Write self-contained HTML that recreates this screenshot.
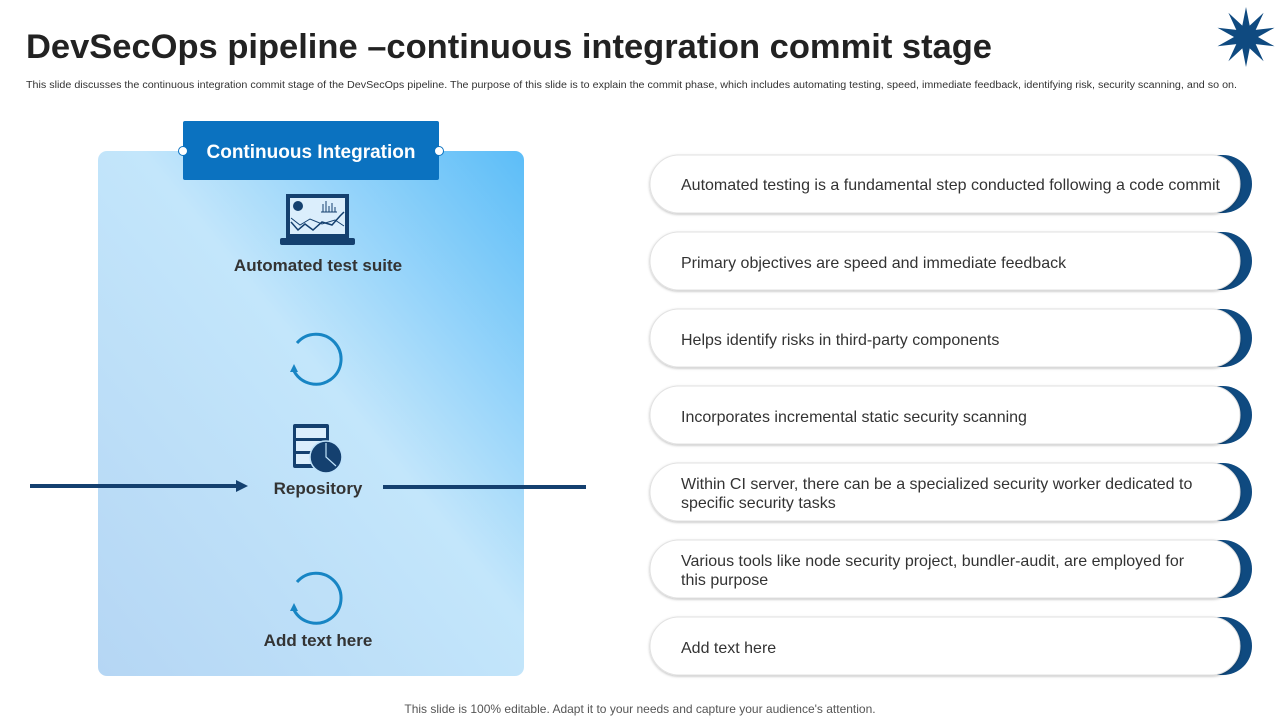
<!DOCTYPE html>
<html><head><meta charset="utf-8"><style>
html,body{margin:0;padding:0;background:#fff;}
svg{display:block;font-family:"Liberation Sans",sans-serif;}
</style></head><body>
<svg width="1280" height="720" viewBox="0 0 1280 720" xmlns="http://www.w3.org/2000/svg">
<defs>
<linearGradient id="pg" x1="1" y1="0" x2="0" y2="1">
<stop offset="0" stop-color="#5cbdf8"/>
<stop offset="0.45" stop-color="#c3e6fb"/>
<stop offset="1" stop-color="#b5d6f4"/>
</linearGradient>
<filter id="sh" x="-5%" y="-20%" width="110%" height="140%"><feDropShadow dx="0" dy="1" stdDeviation="1.2" flood-color="#000" flood-opacity="0.25"/></filter>
</defs>
<text x="26" y="58" font-size="34" font-weight="bold" fill="#222" textLength="966" lengthAdjust="spacingAndGlyphs">DevSecOps pipeline –continuous integration commit stage</text>
<text x="26" y="88" font-size="10" fill="#333" textLength="1211" lengthAdjust="spacingAndGlyphs">This slide discusses the continuous integration commit stage of the DevSecOps pipeline. The purpose of this slide is to explain the commit phase, which includes automating testing, speed, immediate feedback, identifying risk, security scanning, and so on.</text>
<polygon fill="#0f4a80" points="1246,7 1249.7,25.6 1263.6,12.7 1255.7,29.9 1274.5,27.7 1258,37 1274.5,46.3 1255.7,44.1 1263.6,61.3 1249.7,48.4 1246,67 1242.3,48.4 1228.4,61.3 1236.3,44.1 1217.5,46.3 1234,37 1217.5,27.7 1236.3,29.9 1228.4,12.7 1242.3,25.6"/>
<rect x="98" y="151" width="426" height="525" rx="9" fill="url(#pg)"/>
<rect x="183" y="121" width="256" height="59" rx="2" fill="#0b72c0"/>
<circle cx="183" cy="151" r="4.5" fill="#fff" stroke="#0b72c0" stroke-width="1"/>
<circle cx="439" cy="151" r="4.5" fill="#fff" stroke="#0b72c0" stroke-width="1"/>
<text x="311" y="158" font-size="19" font-weight="bold" fill="#fff" text-anchor="middle">Continuous Integration</text>
<rect x="286" y="194" width="63" height="44" fill="#14406f"/>
<rect x="290" y="198" width="55" height="36" fill="#dbeefc"/>
<polyline points="291,222 298,230 305,224 313,230 322,222 332,225 340,216 344,212" fill="none" stroke="#14406f" stroke-width="1.5"/>
<polyline points="291,218 300,225 310,219 322,224 335,220 344,226" fill="none" stroke="#14406f" stroke-width="1"/>
<circle cx="298" cy="206" r="5" fill="#14406f"/>
<path d="M323 212 v-8 M326 212 v-11 M329 212 v-6 M332 212 v-9 M335 212 v-5 M321 212 h16" stroke="#14406f" stroke-width="1"/>
<rect x="280" y="238" width="75" height="7" rx="2" fill="#14406f"/>
<text x="318" y="271" font-size="17" font-weight="bold" fill="#333" text-anchor="middle">Automated test suite</text>
<g fill="none" stroke="#1785c4" stroke-width="3">
<path d="M297 343 A25 25 0 1 1 294 371"/>
<path d="M297 582 A25 25 0 1 1 294 610"/>
</g>
<polygon points="290,372 298,372 294,364" fill="#1785c4"/>
<polygon points="290,611 298,611 294,603" fill="#1785c4"/>
<rect x="293" y="424" width="36" height="44" rx="2" fill="#14406f"/>
<rect x="296" y="428" width="30" height="10" fill="#dbeefc"/><rect x="296" y="441" width="30" height="10" fill="#dbeefc"/><rect x="296" y="454" width="30" height="10" fill="#dbeefc"/>
<circle cx="326" cy="457" r="16" fill="#14406f" stroke="#bfe2fa" stroke-width="1.5"/>
<path d="M326 443 v14 l10 9" fill="none" stroke="#bfe2fa" stroke-width="1.2"/>
<text x="318" y="494" font-size="17" font-weight="bold" fill="#333" text-anchor="middle">Repository</text>
<text x="318" y="646" font-size="17" font-weight="bold" fill="#333" text-anchor="middle">Add  text here</text>
<line x1="30" y1="486" x2="238" y2="486" stroke="#14406f" stroke-width="4"/>
<polygon points="236,480 248,486 236,492" fill="#14406f"/>
<line x1="383" y1="487" x2="586" y2="487" stroke="#14406f" stroke-width="4"/>
<g>
<rect x="1150" y="155" width="102" height="58" rx="29" fill="#0f4a80"/>
<rect x="650" y="155" width="590" height="58" rx="29" fill="#fff" stroke="#e2e2e2" filter="url(#sh)"/>
<text x="681" y="190" font-size="16" fill="#333">Automated testing is a fundamental step conducted following a code commit</text>
<rect x="1150" y="232" width="102" height="58" rx="29" fill="#0f4a80"/>
<rect x="650" y="232" width="590" height="58" rx="29" fill="#fff" stroke="#e2e2e2" filter="url(#sh)"/>
<text x="681" y="268" font-size="16" fill="#333">Primary objectives are speed and immediate feedback</text>
<rect x="1150" y="309" width="102" height="58" rx="29" fill="#0f4a80"/>
<rect x="650" y="309" width="590" height="58" rx="29" fill="#fff" stroke="#e2e2e2" filter="url(#sh)"/>
<text x="681" y="345" font-size="16" fill="#333">Helps identify risks in third-party components</text>
<rect x="1150" y="386" width="102" height="58" rx="29" fill="#0f4a80"/>
<rect x="650" y="386" width="590" height="58" rx="29" fill="#fff" stroke="#e2e2e2" filter="url(#sh)"/>
<text x="681" y="422" font-size="16" fill="#333">Incorporates incremental static security scanning</text>
<rect x="1150" y="463" width="102" height="58" rx="29" fill="#0f4a80"/>
<rect x="650" y="463" width="590" height="58" rx="29" fill="#fff" stroke="#e2e2e2" filter="url(#sh)"/>
<text x="681" y="489" font-size="16" fill="#333">Within CI server, there can be a specialized security worker dedicated to</text>
<text x="681" y="508" font-size="16" fill="#333">specific security tasks</text>
<rect x="1150" y="540" width="102" height="58" rx="29" fill="#0f4a80"/>
<rect x="650" y="540" width="590" height="58" rx="29" fill="#fff" stroke="#e2e2e2" filter="url(#sh)"/>
<text x="681" y="566" font-size="16" fill="#333">Various tools like node security project, bundler-audit, are employed for</text>
<text x="681" y="585" font-size="16" fill="#333">this purpose</text>
<rect x="1150" y="617" width="102" height="58" rx="29" fill="#0f4a80"/>
<rect x="650" y="617" width="590" height="58" rx="29" fill="#fff" stroke="#e2e2e2" filter="url(#sh)"/>
<text x="681" y="653" font-size="16" fill="#333">Add text here</text>
</g>
<text x="640" y="713" font-size="12" fill="#555" text-anchor="middle">This slide is 100% editable. Adapt it to your needs and capture your audience's attention.</text>
</svg>
</body></html>
